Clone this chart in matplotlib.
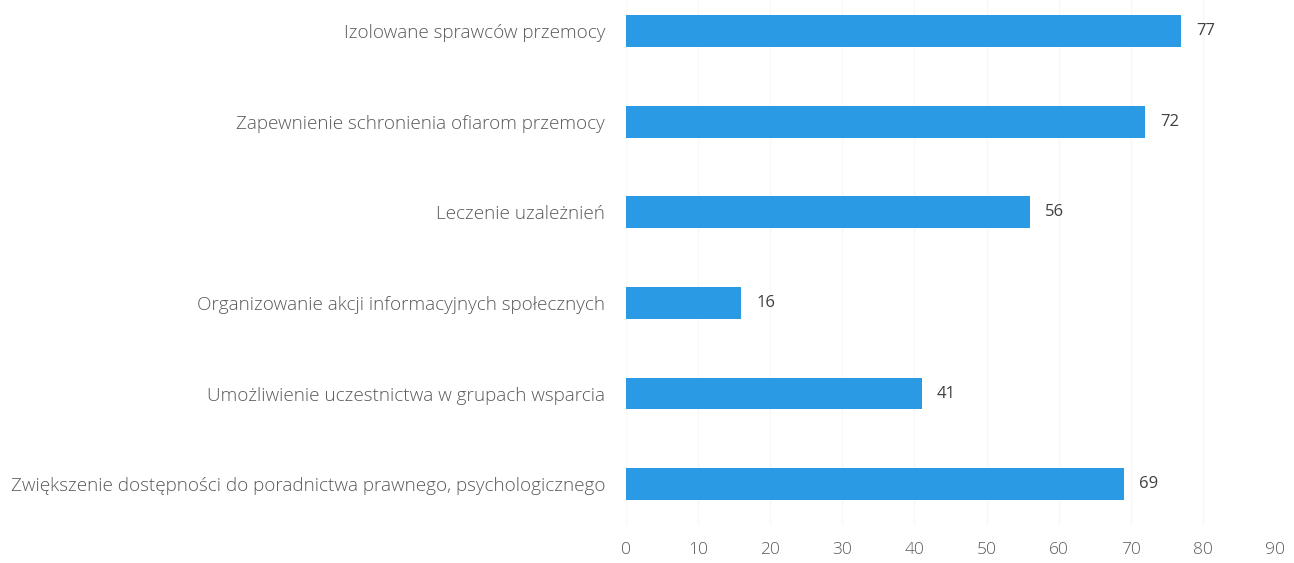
import matplotlib.pyplot as plt

# dane
kategorie = [
    "Izolowane sprawców przemocy",
    "Zapewnienie schronienia ofiarom przemocy",
    "Leczenie uzależnień",
    "Organizowanie akcji informacyjnych społecznych",
    "Umożliwienie uczestnictwa w grupach wsparcia",
    "Zwiększenie dostępności do poradnictwa prawnego, psychologicznego",
]
wartosci = [77, 72, 56, 16, 41, 69]
ticki = [0, 10, 20, 30, 40, 50, 60, 70, 80, 90]

plt.rcParams['font.family'] = ['Open Sans', 'DejaVu Sans']

fig = plt.figure(figsize=(12.94, 5.63), dpi=100)
ax = fig.add_axes([626 / 1294, 1 - 525 / 563, (1275 - 626) / 1294, 525 / 563])

pozycje = list(range(len(kategorie)))
ax.barh(pozycje, wartosci, height=0.35, color='#2b9ae4')

for y, v in zip(pozycje, wartosci):
    ax.text(v + 2.1, y, str(v), va='center', ha='left', fontsize=12, color='#404040')

ax.set_xlim(0, 89.6)
ax.set_ylim(5.45, -0.342)
ax.set_xticks(ticki)
ax.set_yticks(pozycje)
ax.set_yticklabels(kategorie, fontweight='light')
for t in ax.get_xticklabels():
    t.set_fontweight('light')
ax.tick_params(axis='x', length=0, pad=12, labelsize=12.5, labelcolor='#595959')
ax.tick_params(axis='y', length=0, pad=15, labelsize=13.6, labelcolor='#595959')

ax.grid(axis='x', color='#f8f8f8', linewidth=1)
ax.set_axisbelow(True)
for s in ax.spines.values():
    s.set_visible(False)

fig.savefig('out.png', dpi=100)
